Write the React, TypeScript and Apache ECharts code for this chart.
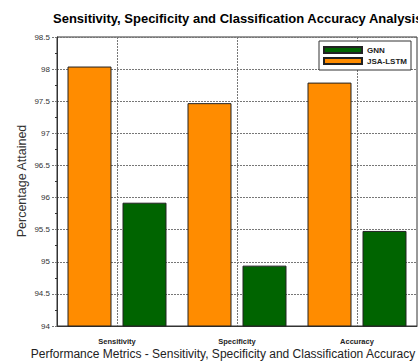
import React, { useEffect, useRef } from "react";
import * as echarts from "echarts";

const categories = ["Sensitivity", "Specificity", "Accuracy"];
const jsaLstm = [98.04, 97.47, 97.79];
const gnn = [95.92, 94.94, 95.48];
const yTicks = { min: 94, max: 98.5, interval: 0.5 };

export default function App() {
  const ref = useRef<HTMLDivElement>(null);
  useEffect(() => {
    if (!ref.current) return;
    const chart = echarts.init(ref.current, null, { renderer: "svg" });
    const font = "Liberation Sans, Arial, sans-serif";
    chart.setOption({
      animation: false,
      backgroundColor: "#fff",
      title: {
        text: "Sensitivity, Specificity and Classification Accuracy Analysis",
        left: 53,
        top: 12,
        padding: 0,
        textStyle: { fontFamily: font, fontSize: 13, fontWeight: "bold", color: "#000" },
      },
      legend: {
        data: ["GNN", "JSA-LSTM"],
        orient: "vertical",
        left: 319,
        top: 41,
        itemWidth: 38,
        itemHeight: 6,
        itemGap: 3,
        padding: [5, 4, 5, 4],
        borderColor: "#333",
        borderWidth: 1,
        backgroundColor: "#fff",
        icon: "rect",
        textStyle: { fontFamily: font, fontSize: 8, fontWeight: "bold", color: "#222" },
      },
      grid: {
        left: 57,
        right: 1,
        top: 37,
        bottom: 38,
        show: true,
        borderColor: "#333",
        borderWidth: 1,
      },
      xAxis: {
        type: "category",
        data: categories,
        axisLine: { lineStyle: { color: "#333" } },
        axisTick: { alignWithLabel: true, length: 4, lineStyle: { color: "#333" } },
        axisLabel: { fontFamily: font, fontSize: 7.5, fontWeight: "bold", color: "#222", margin: 11 },
        splitLine: {
          show: true,
          alignWithLabel: true,
          lineStyle: { color: "#777", type: [2, 1], width: 1 },
        },
      },
      yAxis: {
        type: "value",
        min: yTicks.min,
        max: yTicks.max,
        interval: yTicks.interval,
        axisLine: { show: true, lineStyle: { color: "#333" } },
        axisTick: { show: true, length: 5, lineStyle: { color: "#777", type: [2, 1] } },
        minorTick: { show: true, splitNumber: 2, length: 2, lineStyle: { color: "#333" } },
        axisLabel: { fontFamily: font, fontSize: 8, color: "#333", margin: 7 },
        splitLine: { show: true, lineStyle: { color: "#777", type: [2, 1], width: 1 } },
      },
      graphic: [
        {
          type: "text",
          x: 22,
          y: 181,
          rotation: Math.PI / 2,
          style: {
            text: "Percentage Attained",
            fontFamily: font,
            fontSize: 12.5,
            fill: "#333",
            textAlign: "center",
            textVerticalAlign: "middle",
          },
        },
        {
          type: "text",
          x: 223,
          y: 348,
          style: {
            text: "Performance Metrics - Sensitivity, Specificity and Classification Accuracy",
            fontFamily: font,
            fontSize: 12,
            fill: "#222",
            textAlign: "center",
            textVerticalAlign: "top",
          },
        },
      ],
      series: [
        {
          name: "JSA-LSTM",
          type: "bar",
          data: jsaLstm,
          barWidth: 44,
          barGap: "25%",
          itemStyle: { color: "#FF8C00", borderColor: "#222", borderWidth: 1 },
        },
        {
          name: "GNN",
          type: "bar",
          data: gnn,
          barWidth: 44,
          barGap: "25%",
          itemStyle: { color: "#006400", borderColor: "#222", borderWidth: 1 },
        },
      ],
    });
    return () => chart.dispose();
  }, []);
  return <div ref={ref} style={{ width: 418, height: 364, position: "absolute", left: 0, top: 0 }} />;
}
